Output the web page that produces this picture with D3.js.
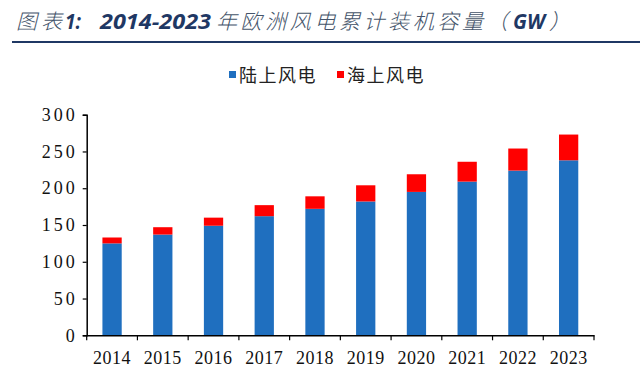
<!DOCTYPE html>
<html><head><meta charset="utf-8">
<script src="https://cdn.jsdelivr.net/npm/d3@7"></script>
<style>body{margin:0;background:#fff;}svg{display:block;}</style>
</head><body>
<svg id="c" width="640" height="381"></svg>
<script>
const years = ["2014","2015","2016","2017","2018","2019","2020","2021","2022","2023"];
const onshore = [125, 137, 149, 162, 172, 182, 195, 209, 224, 238];
const offshore = [8, 10, 11, 15, 17, 22, 24, 27, 30, 35];
const yTicks = [0, 50, 100, 150, 200, 250, 300];
const seriesNames = ["陆上风电", "海上风电"];
const colors = ["#1F6FBF", "#FF0000"];

const svg = d3.select("#c");
const x = d3.scaleBand().domain(years).range([86.7, 594]).paddingInner(0.62).paddingOuter(0.31);
const y = d3.scaleLinear().domain([0, 300]).range([335.3, 114.7]);

// title
const cjk = "'Noto Sans CJK SC','Noto Sans',sans-serif";
const lat = "'Open Sans','Noto Sans',sans-serif";
const tg = svg.append("g").attr("font-style", "italic");
function tpart(txt, xp, opts) {
  const e = tg.append("text").attr("x", xp).attr("y", 29).text(txt)
    .attr("font-family", opts.bold ? lat : cjk).attr("font-size", opts.size)
    .attr("font-weight", opts.bold ? 700 : 300).attr("fill", opts.bold ? "#1f3864" : "#44546a");
  if (opts.ls) e.attr("letter-spacing", opts.ls);
  if (opts.len) e.attr("textLength", opts.len).attr("lengthAdjust", "spacingAndGlyphs");
  return e;
}
tpart("图表", 16, {size: 21, ls: 4});
tpart("1:", 65, {size: 22, bold: true, len: 16});
tpart("2014-2023", 100, {size: 22, bold: true, len: 111});
tpart("年欧洲风电累计装机容量（", 216, {size: 21, ls: 3.6});
tpart("GW", 513, {size: 22, bold: true, len: 32});
tpart("）", 549, {size: 21});
svg.append("line").attr("x1", 12).attr("x2", 640).attr("y1", 42).attr("y2", 42).attr("stroke", "#1f3864").attr("stroke-width", 2);

// legend
const legX = [229, 337];
seriesNames.forEach((n, i) => {
  svg.append("rect").attr("x", legX[i]).attr("y", 71).attr("width", 7).attr("height", 7).attr("fill", colors[i]);
  svg.append("text").attr("x", legX[i] + 10).attr("y", 82).attr("font-size", 18).attr("letter-spacing", 1.5)
    .attr("font-family", cjk).attr("fill", "#222").text(n);
});

// bars
const data = years.map((yr, i) => ({yr, on: onshore[i], off: offshore[i]}));
const g = svg.append("g");
g.selectAll(".on").data(data).join("rect").attr("x", d => x(d.yr)).attr("width", x.bandwidth())
  .attr("y", d => y(d.on)).attr("height", d => y(0) - y(d.on)).attr("fill", colors[0]);
g.selectAll(".off").data(data).join("rect").attr("x", d => x(d.yr)).attr("width", x.bandwidth())
  .attr("y", d => y(d.on + d.off)).attr("height", d => y(d.on) - y(d.on + d.off)).attr("fill", colors[1]);

// y axis
const ya = svg.append("g").attr("transform", "translate(86.7,0)")
  .call(d3.axisLeft(y).tickValues(yTicks).tickSize(4).tickPadding(5));
ya.select(".domain").attr("stroke", "#000").attr("stroke-width", 1.5);
ya.selectAll(".tick line").attr("stroke", "#000").attr("stroke-width", 1.2);
ya.selectAll("text").attr("font-family", "'Liberation Serif','Times New Roman',serif").attr("font-size", 18)
  .attr("letter-spacing", 3).attr("fill", "#111");

// x axis
const xa = svg.append("g").attr("transform", "translate(0,335.3)")
  .call(d3.axisBottom(x).tickSize(0).tickPadding(16));
xa.select(".domain").attr("stroke", "#000").attr("stroke-width", 1.5);
xa.selectAll("text").attr("font-family", "'Liberation Serif','Times New Roman',serif").attr("font-size", 18)
  .attr("letter-spacing", 0.5).attr("fill", "#111");
const bounds = d3.range(0, years.length + 1).map(i => 86.7 + i * (594 - 86.7) / years.length);
xa.selectAll(".bt").data(bounds).join("line").attr("x1", d => d).attr("x2", d => d)
  .attr("y1", 0).attr("y2", 5).attr("stroke", "#000").attr("stroke-width", 1.2);
</script>
</body></html>
